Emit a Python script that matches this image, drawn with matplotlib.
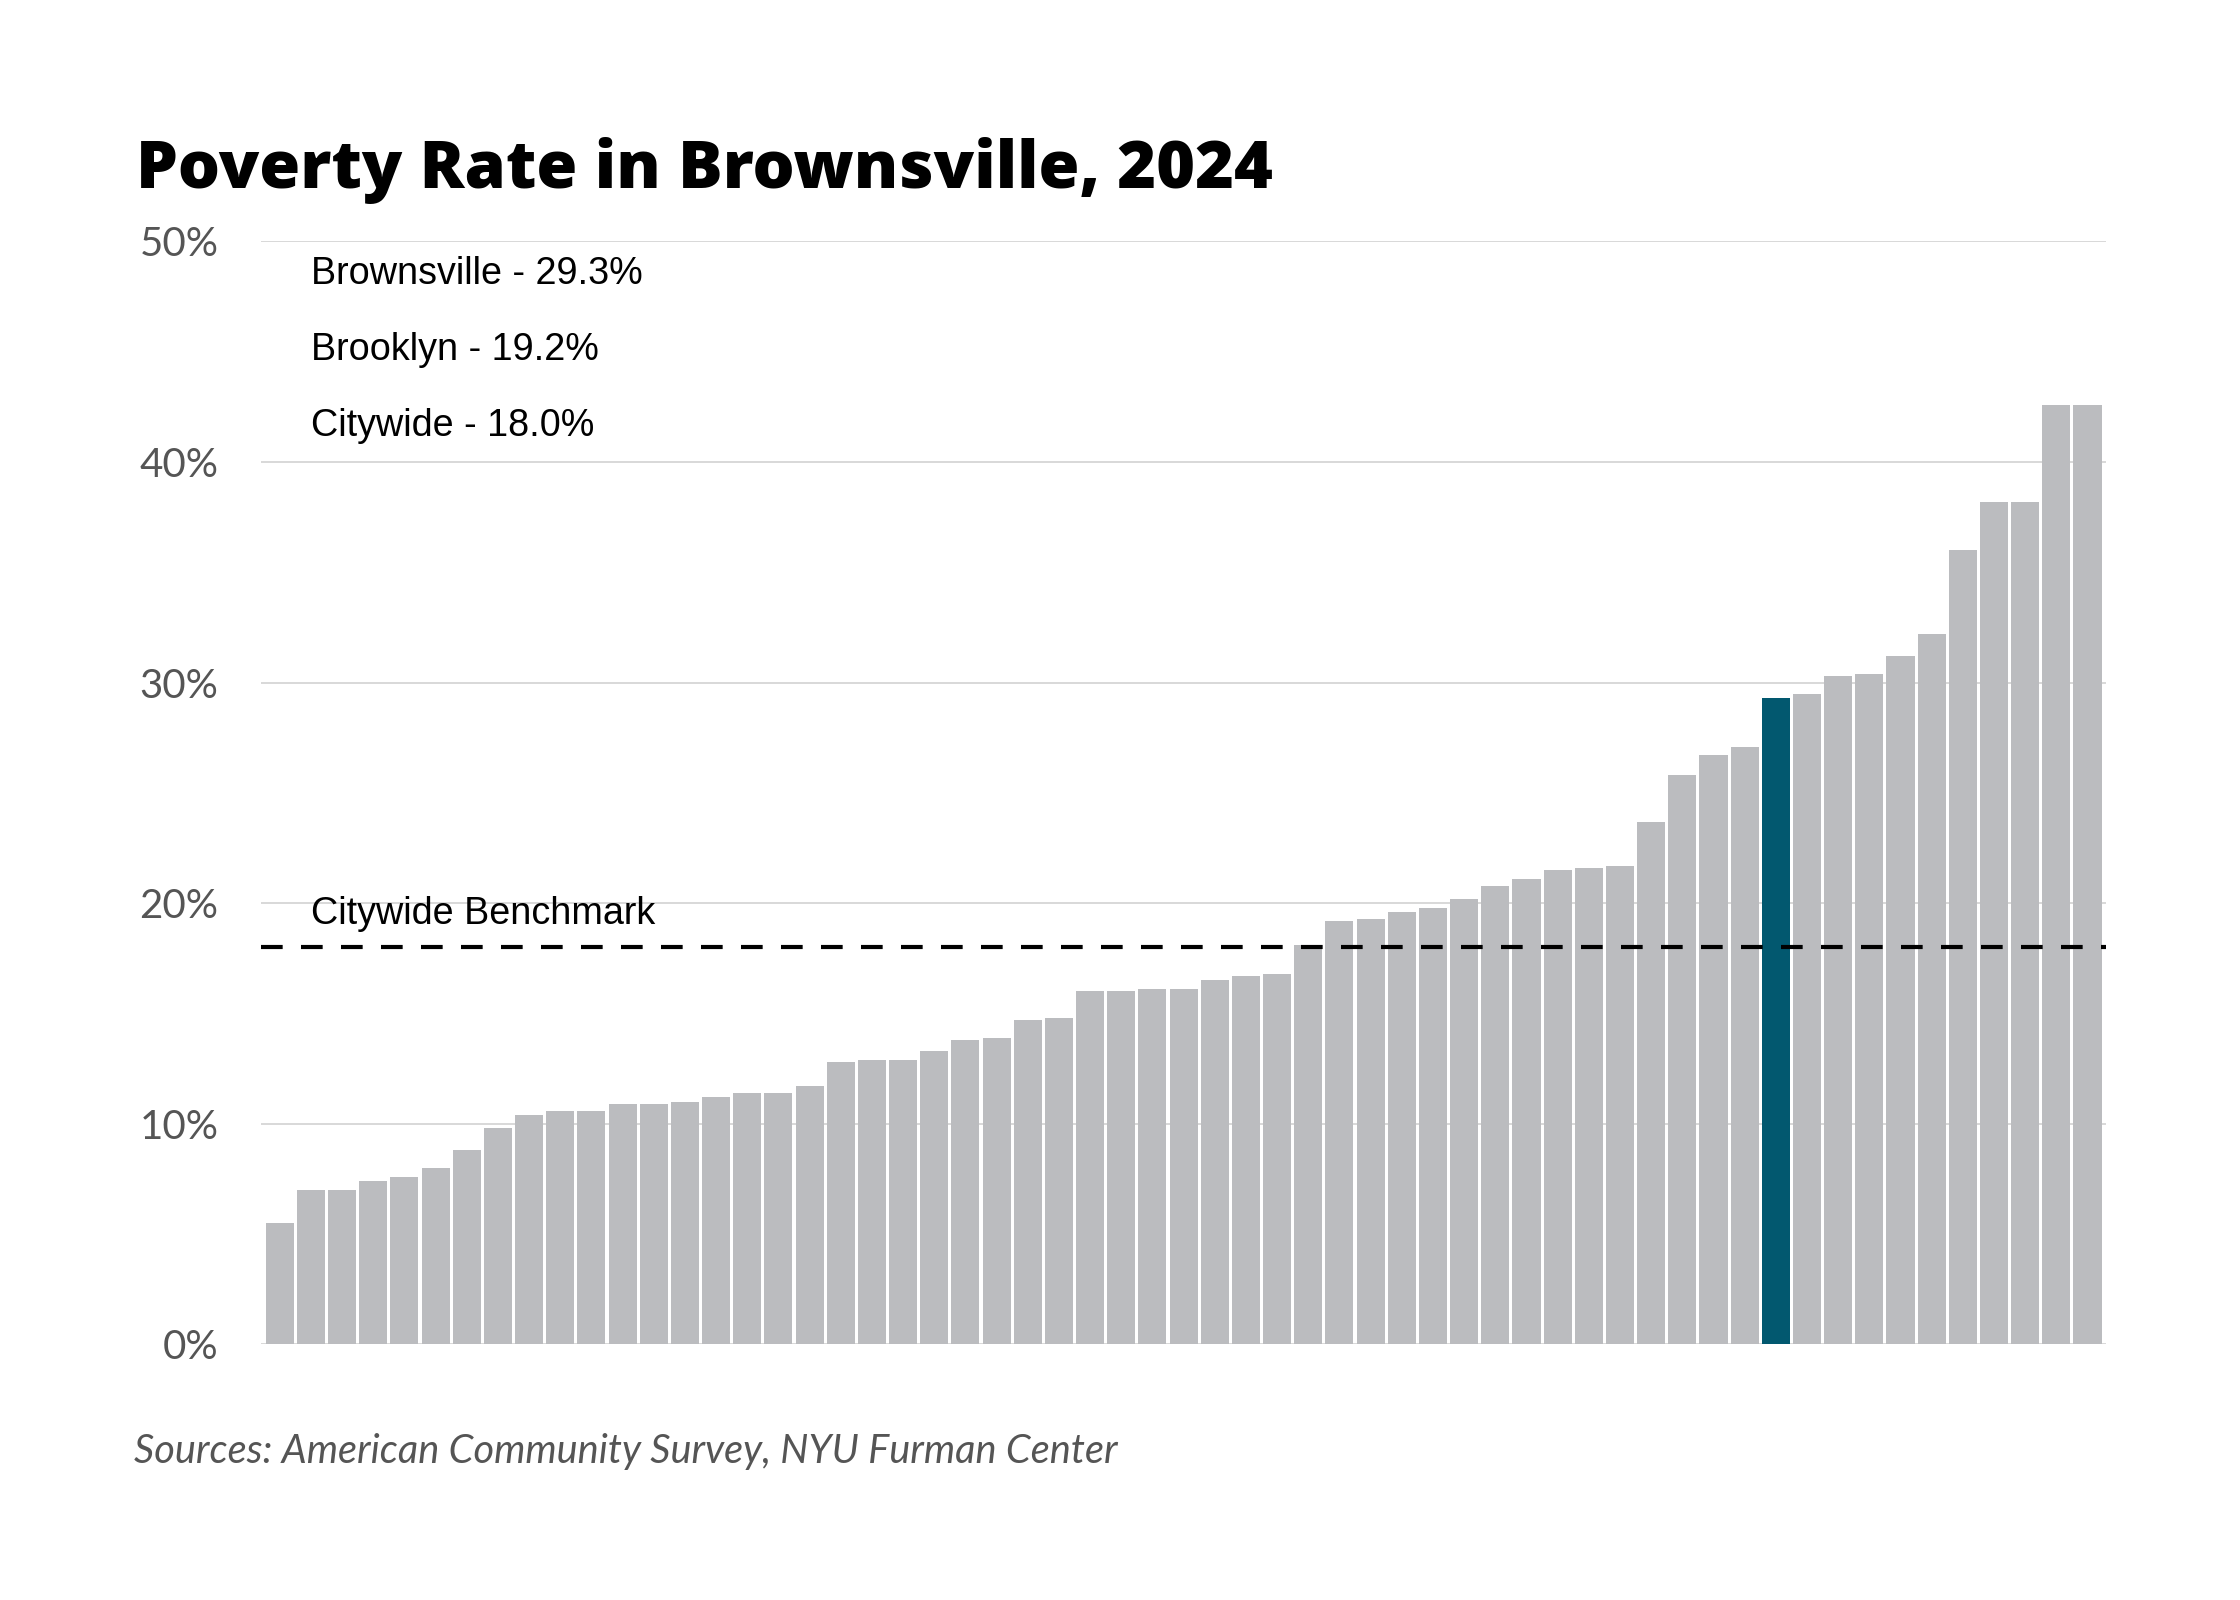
import matplotlib
matplotlib.use("Agg")
import matplotlib.pyplot as plt

# ---- data ----
rates = [5.5, 7.0, 7.0, 7.4, 7.6, 8.0, 8.8, 9.8, 10.4, 10.6, 10.6, 10.9, 10.9, 11.0,
         11.2, 11.4, 11.4, 11.7, 12.8, 12.9, 12.9, 13.3, 13.8, 13.9, 14.7, 14.8,
         16.0, 16.0, 16.1, 16.1, 16.5, 16.7, 16.8, 18.1, 19.2, 19.3, 19.6, 19.8,
         20.2, 20.8, 21.1, 21.5, 21.6, 21.7, 23.7, 25.8, 26.7, 27.1, 29.3, 29.5,
         30.3, 30.4, 31.2, 32.2, 36.0, 38.2, 38.2, 42.6, 42.6]
highlight_index = 48
benchmark = 18.0
yticks = [0, 10, 20, 30, 40, 50]
ytick_labels = ["0%", "10%", "20%", "30%", "40%", "50%"]
summary_lines = ["Brownsville - 29.3%", "Brooklyn - 19.2%", "Citywide - 18.0%"]
summary_y = [48.07, 44.62, 41.19]
title = "Poverty Rate in Brownsville, 2024"
source = "Sources: American Community Survey, NYU Furman Center"

GRAY = "#bbbcbf"
TEAL = "#02586f"

fig = plt.figure(figsize=(11.2, 8), dpi=200)
ax = fig.add_axes([0.1167, 0.1598, 0.8233, 0.6893])

colors = [TEAL if i == highlight_index else GRAY for i in range(len(rates))]
ax.bar(range(len(rates)), rates, width=0.9, color=colors, zorder=2, linewidth=0)

ax.set_xlim(-0.5875, 58.58)
ax.set_ylim(0, 50)
ax.set_yticks(yticks)
ax.set_yticklabels(ytick_labels, fontfamily="Lato", fontsize=14.5, color="#555555")
ax.set_xticks([])
ax.tick_params(axis="y", length=0, pad=15.5)
for s in ax.spines.values():
    s.set_visible(False)
ax.grid(axis="y", color="#d2d2d2", linewidth=0.6, zorder=0)
ax.set_axisbelow(True)

ax.axhline(benchmark, color="black", linewidth=1.5, linestyle=(0, (5.2, 4.4)), zorder=3)

tr = ax.get_yaxis_transform()
ax.text(0.0271, 19.04, "Citywide Benchmark", transform=tr, fontfamily="Liberation Sans",
        fontsize=13.6, va="baseline", ha="left", color="black")
for txt, y in zip(summary_lines, summary_y):
    ax.text(0.0271, y, txt, transform=tr, fontfamily="Liberation Sans",
            fontsize=13.6, va="baseline", ha="left", color="black")

fig.text(0.0606, 0.8823, title, fontfamily="Open Sans", fontweight="extra bold", fontsize=23.9,
         va="baseline", ha="left", color="black")
fig.text(0.06, 0.0857, source, fontfamily="Lato", fontstyle="italic",
         fontsize=14.3, va="baseline", ha="left", color="#555555")

fig.savefig("out.png", dpi=200, facecolor="white")
